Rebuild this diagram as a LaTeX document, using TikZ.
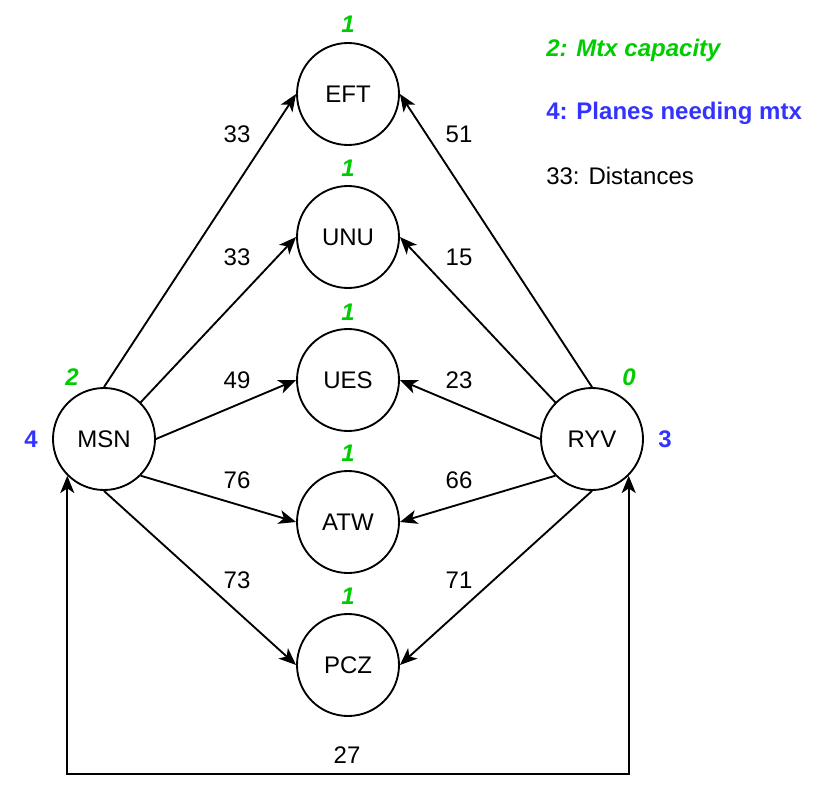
\documentclass[tikz,border=0pt]{standalone}
\usepackage{fontspec}
\setmainfont{Liberation Sans}
\usetikzlibrary{arrows.meta}
\definecolor{capgreen}{RGB}{0,204,0}
\definecolor{needblue}{RGB}{51,51,255}
\tikzset{
  apt/.style={circle, draw, line width=1.4pt, minimum size=76.5pt, inner sep=0pt, font=\fontsize{18pt}{21pt}\selectfont},
  txtlbl/.style={inner sep=0pt, font=\fontsize{18pt}{21pt}\selectfont},
  caplbl/.style={inner sep=0pt, text=capgreen, font=\fontsize{18pt}{21pt}\selectfont\bfseries\itshape},
  needlbl/.style={inner sep=0pt, text=needblue, font=\fontsize{18pt}{21pt}\selectfont\bfseries},
  tipx/.tip={Stealth[length=13pt, width=10.5pt, inset=3.5pt]},
  conn/.style={line width=1.4pt, -tipx},
  bconn/.style={line width=1.4pt, tipx-tipx}
}
\begin{document}
\begin{tikzpicture}[x=0.75pt, y=-0.75pt]
\useasboundingbox (0,0) rectangle (824,795);
% nodes
\node[apt] (EFT) at (348,94) {EFT};
\node[apt] (UNU) at (348,237) {UNU};
\node[apt] (UES) at (348,380) {UES};
\node[apt] (ATW) at (348,522) {ATW};
\node[apt] (PCZ) at (348,665) {PCZ};
\node[apt] (MSN) at (104,439) {MSN};
\node[apt] (RYV) at (592,439) {RYV};
% capacities
\node[caplbl] (cEFT) at (348,24) {1};
\node[caplbl] (cUNU) at (348,168) {1};
\node[caplbl] (cUES) at (348,312) {1};
\node[caplbl] (cATW) at (348,453) {1};
\node[caplbl] (cPCZ) at (348,596) {1};
\node[caplbl] (cMSN) at (72,377) {2};
\node[caplbl] (cRYV) at (629,377) {0};
% planes
\node[needlbl] (nMSN) at (31,439) {4};
\node[needlbl] (nRYV) at (665,439) {3};
% legend
\node[caplbl, anchor=west] (l1) at (546,50) {2: Mtx capacity};
\node[needlbl, anchor=west] (l2) at (546,113) {4: Planes needing mtx};
\node[txtlbl, anchor=west] (l3) at (546,176) {33: Distances};
% edges from MSN
\draw[conn] (MSN.north) -- (EFT.west);
\draw[conn] (MSN.north east) -- (UNU.west);
\draw[conn] (MSN.east) -- (UES.west);
\draw[conn] (MSN.south east) -- (ATW.west);
\draw[conn] (MSN.south) -- (PCZ.west);
% edges from RYV
\draw[conn] (RYV.north) -- (EFT.east);
\draw[conn] (RYV.north west) -- (UNU.east);
\draw[conn] (RYV.west) -- (UES.east);
\draw[conn] (RYV.south west) -- (ATW.east);
\draw[conn] (RYV.south) -- (PCZ.east);
% bottom connector
\draw[bconn] (MSN.south west) -- (MSN.south west |- 0,774) -- (RYV.south east |- 0,774) -- (RYV.south east);
% distance labels
\node[txtlbl] (d1) at (237,134) {33};
\node[txtlbl] (d2) at (459,134) {51};
\node[txtlbl] (d3) at (237,257) {33};
\node[txtlbl] (d4) at (459,257) {15};
\node[txtlbl] (d5) at (237,380) {49};
\node[txtlbl] (d6) at (459,380) {23};
\node[txtlbl] (d7) at (237,480) {76};
\node[txtlbl] (d8) at (459,480) {66};
\node[txtlbl] (d9) at (237,580) {73};
\node[txtlbl] (d10) at (459,580) {71};
\node[txtlbl] (d11) at (347,755) {27};
\end{tikzpicture}
\end{document}
